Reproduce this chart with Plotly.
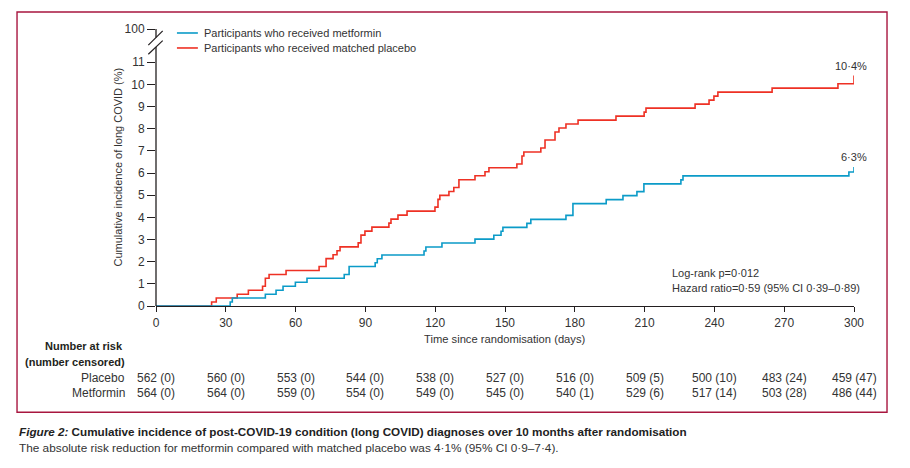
import plotly.graph_objects as go

# ---------------- data ----------------
placebo_days = [0, 23.9, 25.9, 34.9, 39.7, 45.8, 47.0, 48.6, 55.9, 70.1, 73.1, 76.1, 77.8, 79.1,
                86.9, 88.1, 89.8, 92.8, 100.1, 101.0, 104.0, 107.9, 119.9, 121.2, 122.0, 125.9,
                128.0, 130.2, 137.1, 141.4, 143.1, 155.1, 157.3, 158.1, 165.4, 167.2, 171.5,
                173.2, 176.2, 181.4, 197.7, 209.8, 210.6, 231.7, 237.7, 239.8, 241.5, 264.8,
                293.1, 300]
placebo_pct = [0, 0.18, 0.36, 0.53, 0.71, 0.89, 1.25, 1.42, 1.60, 1.78, 2.14, 2.31, 2.49, 2.67,
               2.85, 3.20, 3.38, 3.56, 3.74, 3.92, 4.10, 4.28, 4.46, 4.81, 4.99, 5.17,
               5.35, 5.70, 5.88, 6.06, 6.24, 6.41, 6.77, 6.95, 7.13, 7.49, 7.85,
               8.03, 8.21, 8.39, 8.57, 8.75, 8.93, 9.11, 9.29, 9.47, 9.65, 9.83,
               10.03, 10.4]

metformin_days = [0, 31.9, 32.8, 47.0, 51.6, 54.6, 59.9, 64.9, 80.9, 83.0, 94.2, 95.1, 97.1,
                  115.2, 116.0, 122.9, 137.1, 145.2, 148.3, 149.1, 159.4, 161.1, 176.2, 179.2,
                  193.5, 200.7, 206.7, 209.7, 225.6, 226.5, 297.8, 300]
metformin_pct = [0, 0.18, 0.36, 0.53, 0.71, 0.89, 1.07, 1.25, 1.42, 1.78, 1.95, 2.13, 2.30,
                 2.48, 2.66, 2.84, 3.02, 3.19, 3.37, 3.55, 3.73, 3.91, 4.09, 4.62,
                 4.80, 4.98, 5.16, 5.51, 5.69, 5.87, 6.05, 6.27]

risk_days = [0, 30, 60, 90, 120, 150, 180, 210, 240, 270, 300]
placebo_risk = ["562 (0)", "560 (0)", "553 (0)", "544 (0)", "538 (0)", "527 (0)",
                "516 (0)", "509 (5)", "500 (10)", "483 (24)", "459 (47)"]
metformin_risk = ["564 (0)", "564 (0)", "559 (0)", "554 (0)", "549 (0)", "545 (0)",
                  "540 (1)", "529 (6)", "517 (14)", "503 (28)", "486 (44)"]

y_tickvals = [0, 1, 2, 3, 4, 5, 6, 7, 8, 9, 10, 11, 12.5]
y_ticktext = ["0", "1", "2", "3", "4", "5", "6", "7", "8", "9", "10", "11", "100"]

placebo_end_label = "10·4%"
metformin_end_label = "6·3%"

# ---------------- style ----------------
FONT = "Liberation Sans, Arial, sans-serif"
RED = "#ee3124"
BLUE = "#0b9bc8"
INK = "#231f20"
TXT = "#333333"
FRAME = "#a8163f"

fig = go.Figure()
fig.add_trace(go.Scatter(x=placebo_days, y=placebo_pct, mode="lines", line_shape="hv",
                         line=dict(color=RED, width=1.6), showlegend=False,
                         name="Participants who received matched placebo"))
fig.add_trace(go.Scatter(x=metformin_days, y=metformin_pct, mode="lines", line_shape="hv",
                         line=dict(color=BLUE, width=1.6), showlegend=False,
                         name="Participants who received metformin"))

shapes = []
# broken y-axis line
shapes.append(dict(type="line", xref="paper", yref="paper", x0=0, x1=0, y0=0, y1=0.935,
                   line=dict(color=INK, width=1.3)))
shapes.append(dict(type="line", xref="paper", yref="paper", x0=0, x1=0, y0=0.969, y1=1.0,
                   line=dict(color=INK, width=1.3)))
# break slashes
shapes.append(dict(type="line", xref="paper", yref="paper", x0=-0.011, x1=0.0096, y0=0.942, y1=0.993,
                   line=dict(color=INK, width=1.2)))
shapes.append(dict(type="line", xref="paper", yref="paper", x0=-0.011, x1=0.0096, y0=0.909, y1=0.958,
                   line=dict(color=INK, width=1.2)))
# legend lines
shapes.append(dict(type="line", xref="paper", yref="paper", x0=0.030, x1=0.060, y0=0.9856, y1=0.9856,
                   line=dict(color=BLUE, width=1.6)))
shapes.append(dict(type="line", xref="paper", yref="paper", x0=0.030, x1=0.060, y0=0.9315, y1=0.9315,
                   line=dict(color=RED, width=1.6)))
# frame
shapes.append(dict(type="rect", xref="paper", yref="paper", x0=-0.1991, x1=1.0473, y0=-0.3837, y1=1.0613,
                   line=dict(color=FRAME, width=1.4)))

ann = []
def A(**kw):
    base = dict(showarrow=False, font=dict(family=FONT, size=12, color=TXT))
    base.update(kw)
    ann.append(base)

SMALL = dict(family=FONT, size=11, color=TXT)

# legend text
A(text="Participants who received metformin", xref="paper", yref="paper", x=0.066, y=0.9856,
  xanchor="left", yanchor="middle", font=SMALL)
A(text="Participants who received matched placebo", xref="paper", yref="paper", x=0.066, y=0.9315,
  xanchor="left", yanchor="middle", font=SMALL)

# end labels
A(text=placebo_end_label, xref="x", yref="y", x=300, y=placebo_pct[-1], xanchor="right",
  yanchor="bottom", xshift=15, yshift=2, font=SMALL)
A(text=metformin_end_label, xref="x", yref="y", x=300, y=metformin_pct[-1], xanchor="right",
  yanchor="bottom", xshift=15, yshift=2, font=SMALL)

# stats
A(text="Log-rank p=0·012", xref="x", yref="y", x=221, y=1.50, xanchor="left", yanchor="middle",
  font=SMALL)
A(text="Hazard ratio=0·59 (95% CI 0·39–0·89)", xref="x", yref="y", x=221, y=0.83,
  xanchor="left", yanchor="middle", font=SMALL)

# axis titles
A(text="Time since randomisation (days)", xref="paper", yref="paper", x=0.5, y=0,
  xanchor="center", yanchor="middle", yshift=-33, font=dict(family=FONT, size=11.2, color=TXT))
A(text="Cumulative incidence of long COVID (%)", xref="paper", yref="paper", x=0, y=0.5,
  xanchor="center", yanchor="middle", xshift=-39, textangle=-90,
  font=dict(family=FONT, size=11, color=TXT))

# risk table
A(text="<b>Number at risk</b>", xref="paper", yref="paper", x=0, y=0, xanchor="right",
  yanchor="middle", xshift=-31, yshift=-40, font=dict(family=FONT, size=11, color=INK))
A(text="<b>(number censored)</b>", xref="paper", yref="paper", x=0, y=0, xanchor="right",
  yanchor="middle", xshift=-29, yshift=-56, font=dict(family=FONT, size=11, color=INK))
A(text="Placebo", xref="paper", yref="paper", x=0, y=0, xanchor="right", yanchor="middle",
  xshift=-29, yshift=-72)
A(text="Metformin", xref="paper", yref="paper", x=0, y=0, xanchor="right", yanchor="middle",
  xshift=-29, yshift=-87)
for d, p, m in zip(risk_days, placebo_risk, metformin_risk):
    A(text=p, xref="x", yref="paper", x=d, y=0, xanchor="center", yanchor="middle", yshift=-72)
    A(text=m, xref="x", yref="paper", x=d, y=0, xanchor="center", yanchor="middle", yshift=-87)

# caption
A(text="<b><i>Figure 2:</i> Cumulative incidence of post-COVID-19 condition (long COVID) diagnoses over 10 months after randomisation</b>",
  xref="paper", yref="paper", x=0, y=0, xanchor="left", yanchor="middle", xshift=-139, yshift=-125,
  font=dict(family=FONT, size=11.7, color="#222222"))
A(text="The absolute risk reduction for metformin compared with matched placebo was 4·1% (95% CI 0·9–7·4).",
  xref="paper", yref="paper", x=0, y=0, xanchor="left", yanchor="middle", xshift=-139, yshift=-142,
  font=dict(family=FONT, size=11.8, color=TXT))

# page body has an 8px margin, so the figure is sized/offset to keep the plot area in place
fig.update_layout(
    width=902, height=460,
    margin=dict(l=148, r=56, t=21, b=162),
    paper_bgcolor="white", plot_bgcolor="white",
    font=dict(family=FONT, size=12, color=TXT),
    shapes=shapes, annotations=ann,
    xaxis=dict(range=[0, 300], tickvals=risk_days, showgrid=False, zeroline=False,
               showline=True, linecolor=INK, linewidth=1.3, ticks="outside", ticklen=5,
               tickcolor=INK, tickwidth=1.3, tickfont=dict(family=FONT, size=12, color=TXT)),
    yaxis=dict(range=[0, 12.5], tickvals=y_tickvals, ticktext=y_ticktext, showgrid=False,
               zeroline=False, showline=False, ticks="outside", ticklen=8, tickcolor=INK,
               tickwidth=1.3, tickfont=dict(family=FONT, size=12, color=TXT)),
)

fig.write_html("out.html")
